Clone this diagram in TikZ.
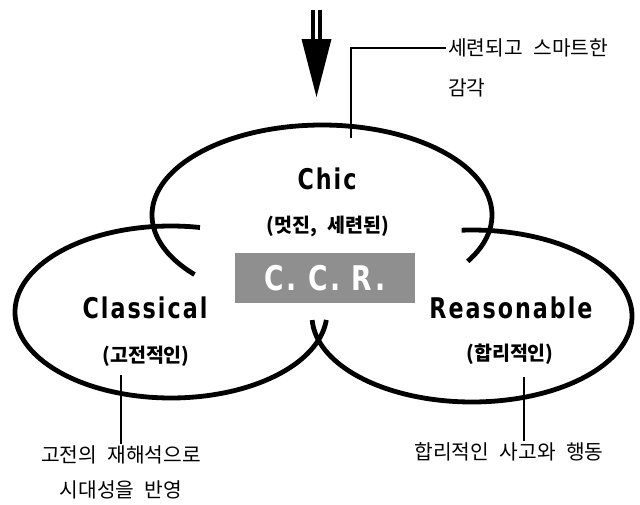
\documentclass[tikz,border=0pt]{standalone}
\usepackage{fontspec}
\newfontfamily\krfont{Noto Sans CJK KR}[WordSpace=2.3]
\newfontfamily\headfont{DejaVu Sans}[LetterSpace=9]
\newcommand{\squeeze}[1]{\scalebox{0.78}[1]{#1}}
\tikzset{
  ring/.style={line width=4.8pt},
  lead/.style={line width=2.4pt},
  title/.style={font=\headfont\bfseries\fontsize{28.5}{30}\selectfont, inner sep=0pt},
  sub/.style={font=\krfont\bfseries\fontsize{19.5}{21}\selectfont, inner sep=0pt},
  note/.style={font=\krfont\fontsize{20.3}{24}\selectfont, inner sep=2pt},
  ccrbox/.style={fill=black!44, text=white, minimum width=180pt, minimum height=50pt,
    inner sep=0pt, font=\headfont\bfseries\fontsize{34}{36}\selectfont}
}
\begin{document}
\begin{tikzpicture}[x=1pt, y=-1pt]
  \fill[white] (0,0) rectangle (640,504);
  \path[use as bounding box] (0,0) rectangle (640,504);

  % three open ellipses
  \draw[ring] plot[domain=138.6:391, samples=140] ({322+170*cos(\x)}, {215+90*sin(\x)});
  \draw[ring] plot[domain=5.3:280.7, samples=140] ({171+156*cos(\x)}, {312+86*sin(\x)});
  \draw[ring] plot[domain=266.3:537.3, samples=140] ({472+160*cos(\x)}, {316+86*sin(\x)});

  % labels inside the ellipses
  \node[title] (chic) at (327,179) {\squeeze{Chic}};
  \node[sub] (chicsub) at (328,226) {(멋진, 세련된)};
  \node[title] (classical) at (145,308) {\squeeze{Classical}};
  \node[sub] (classub) at (146,356) {(고전적인)};
  \node[title] (reason) at (511,308) {\squeeze{Reasonable}};
  \node[sub] (reasub) at (510,354) {(합리적인)};
  \node[ccrbox] (ccr) at (325,278) {\squeeze{C. C. R.}};

  % downward double arrow
  \coordinate (arrtop) at (316.5,10);
  \coordinate (arrtip) at (316.5,97);
  \draw[line width=3.6pt] ([xshift=-3.4pt]arrtop) -- ++(0,31);
  \draw[line width=3.6pt] ([xshift=3.4pt]arrtop) -- ++(0,31);
  \fill (301.5,39) -- (331.5,39) -- (arrtip) -- cycle;

  % annotations
  \node[note, anchor=west] (sense) at (446,48) {세련되고 스마트한};
  \node[note, anchor=west] (sense2) at (446,88) {감각};
  \coordinate (chicmark) at (351,138);
  \draw[lead] (chicmark) |- (sense.west);

  \node[note] (clnote) at (121,455) {고전의 재해석으로};
  \node[note] (clnote2) at (121,490) {시대성을 반영};
  \coordinate (clmark) at (121,375);
  \draw[lead] (clmark) -- (clmark |- clnote.north);

  \node[note] (renote) at (509,452) {합리적인 사고와 행동};
  \coordinate (remark) at (524,377);
  \draw[lead] (remark) -- (remark |- renote.north);
\end{tikzpicture}
\end{document}
